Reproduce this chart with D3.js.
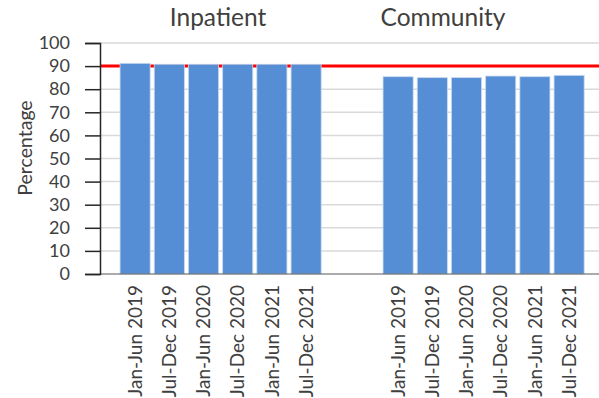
<!DOCTYPE html>
<html>
<head>
<meta charset="utf-8">
<script src="https://cdn.jsdelivr.net/npm/d3@7"></script>
<style>
  html, body { margin: 0; padding: 0; background: #fff; }
  svg { display: block; }
  text { font-family: Lato, "Open Sans", sans-serif; fill: #404040; }
</style>
</head>
<body>
<svg id="chart" width="599" height="398"></svg>
<script>
// Half-year periods shown under each panel
const periods = ["Jan-Jun 2019", "Jul-Dec 2019", "Jan-Jun 2020", "Jul-Dec 2020", "Jan-Jun 2021", "Jul-Dec 2021"];
// Percentage per period, by setting
const inpatient = [91.2, 90.8, 90.8, 90.8, 90.8, 90.8];
const community = [85.4, 85.0, 85.0, 85.7, 85.4, 86.0];
const panelTitles = ["Inpatient", "Community"];
const target = 90;
const yTicks = [0, 10, 20, 30, 40, 50, 60, 70, 80, 90, 100];

const svg = d3.select("#chart");
const plotLeft = 100, plotRight = 599;

const y = d3.scaleLinear().domain([0, 100]).range([274, 43]);

const panels = [
  { title: panelTitles[0], values: inpatient, range: [118, 323.2], titleX: 218 },
  { title: panelTitles[1], values: community, range: [381, 586.2], titleX: 443 }
];

// Horizontal gridlines
svg.append("g")
  .selectAll("line")
  .data(yTicks.filter(d => d > 0))
  .join("line")
  .attr("x1", plotLeft).attr("x2", plotRight)
  .attr("y1", d => y(d)).attr("y2", d => y(d))
  .attr("stroke", "#d9d9d9").attr("stroke-width", 1.5);

// Target line
svg.append("line")
  .attr("x1", plotLeft).attr("x2", plotRight)
  .attr("y1", y(target)).attr("y2", y(target))
  .attr("stroke", "#ff0000").attr("stroke-width", 3);

panels.forEach(p => {
  const x = d3.scaleBand().domain(periods).range(p.range)
    .paddingInner(0.12).paddingOuter(0.06);
  const rows = periods.map((k, i) => ({ k, v: p.values[i] }));

  svg.append("g")
    .selectAll("rect")
    .data(rows)
    .join("rect")
    .attr("x", d => x(d.k))
    .attr("width", x.bandwidth())
    .attr("y", d => y(d.v))
    .attr("height", d => y(0) - y(d.v))
    .attr("fill", "#558ed5")
    .attr("stroke", "#c6d9f0")
    .attr("stroke-width", 0.8);

  // Rotated period labels
  svg.append("g")
    .selectAll("text")
    .data(periods)
    .join("text")
    .attr("transform", d => `translate(${x(d) + x.bandwidth() / 2},285) rotate(-90)`)
    .attr("text-anchor", "end")
    .attr("dy", "0.35em")
    .attr("font-size", 19)
    .text(d => d);

  svg.append("text")
    .attr("x", p.titleX).attr("y", 26)
    .attr("text-anchor", "middle")
    .attr("font-size", 24.5)
    .text(p.title);
});

// Baseline
svg.append("line")
  .attr("x1", plotLeft).attr("x2", plotRight)
  .attr("y1", y(0)).attr("y2", y(0))
  .attr("stroke", "#595959").attr("stroke-width", 1.2);

// Y axis
const yAxis = d3.axisLeft(y).tickValues(yTicks).tickSize(15).tickPadding(15);
const ga = svg.append("g").attr("transform", `translate(${plotLeft},0)`).call(yAxis);
ga.select(".domain").attr("stroke", "#262626").attr("stroke-width", 1.5);
ga.selectAll(".tick line").attr("stroke", "#262626").attr("stroke-width", 1.5);
ga.selectAll(".tick text").attr("font-size", 18).attr("fill", "#404040")
  .style("font-family", "Lato, 'Open Sans', sans-serif");

// Y axis title
svg.append("text")
  .attr("transform", "translate(25,148) rotate(-90)")
  .attr("text-anchor", "middle")
  .attr("dy", "0.35em")
  .attr("font-size", 19.5)
  .text("Percentage");
</script>
</body>
</html>
